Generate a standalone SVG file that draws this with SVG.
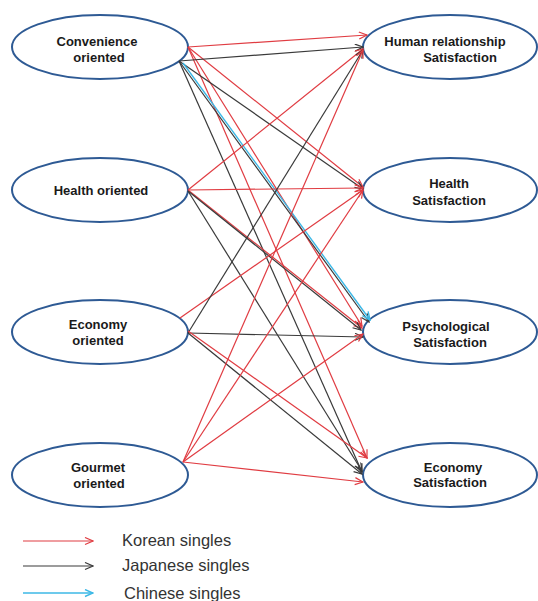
<svg xmlns="http://www.w3.org/2000/svg" width="538" height="601" viewBox="0 0 538 601">
<style>
.node ellipse{fill:#fff;stroke:#2e5a94;stroke-width:2}
.node text{font-family:"Liberation Sans",Arial,sans-serif;font-weight:bold;font-size:13px;fill:#1a1a1a;text-anchor:middle}
.kr{stroke:#e03c42;stroke-width:1.2;fill:none}
.jp{stroke:#3a3a3a;stroke-width:1.2;fill:none}
.cn{stroke:#3cb8e6;stroke-width:1.4;fill:none}
.kr{marker-end:url(#ak)}
.jp{marker-end:url(#aj)}
.cn{marker-end:url(#ac)}
.legend text{font-family:"Liberation Sans",Arial,sans-serif;font-size:16.5px;fill:#333}
</style>
<defs>
<marker id="ak" markerUnits="userSpaceOnUse" markerWidth="10" markerHeight="10" refX="9" refY="4" orient="auto"><path d="M1,0.5 L9,4 L1,7.5" fill="none" stroke="#e03c42" stroke-width="1.2"/></marker>
<marker id="aj" markerUnits="userSpaceOnUse" markerWidth="10" markerHeight="10" refX="9" refY="4" orient="auto"><path d="M1,0.5 L9,4 L1,7.5" fill="none" stroke="#3a3a3a" stroke-width="1.2"/></marker>
<marker id="ac" markerUnits="userSpaceOnUse" markerWidth="10" markerHeight="10" refX="9" refY="4" orient="auto"><path d="M1,0.5 L9,4 L1,7.5" fill="none" stroke="#3cb8e6" stroke-width="1.4"/></marker>
</defs>

<g id="n-convenience" class="node"><ellipse cx="100" cy="47" rx="88" ry="32"/><text x="97" y="46">Convenience</text><text x="99" y="62">oriented</text></g>
<g id="n-health" class="node"><ellipse cx="100" cy="190" rx="88" ry="32"/><text x="101" y="195">Health oriented</text></g>
<g id="n-economy" class="node"><ellipse cx="100" cy="332" rx="88" ry="32"/><text x="98" y="329">Economy</text><text x="98" y="345">oriented</text></g>
<g id="n-gourmet" class="node"><ellipse cx="100" cy="475" rx="88" ry="32"/><text x="98" y="472">Gourmet</text><text x="99" y="488">oriented</text></g>

<g id="n-human-sat" class="node"><ellipse cx="450" cy="47" rx="87" ry="32"/><text x="445" y="46">Human relationship</text><text x="460" y="62">Satisfaction</text></g>
<g id="n-health-sat" class="node"><ellipse cx="450" cy="190" rx="87" ry="32"/><text x="449" y="188">Health</text><text x="449" y="205">Satisfaction</text></g>
<g id="n-psych-sat" class="node"><ellipse cx="450" cy="332" rx="87" ry="32"/><text x="446" y="331">Psychological</text><text x="450" y="347">Satisfaction</text></g>
<g id="n-economy-sat" class="node"><ellipse cx="450" cy="475" rx="87" ry="32"/><text x="453" y="472">Economy</text><text x="450" y="487">Satisfaction</text></g>

<g id="connectors">
<line class="kr" x1="188" y1="47" x2="367" y2="35"/>
<line class="kr" x1="188" y1="47" x2="363" y2="187"/>
<line class="kr" x1="188" y1="47" x2="362" y2="326"/>
<line class="kr" x1="188" y1="47" x2="367" y2="458"/>
<line class="jp" x1="179" y1="61" x2="363" y2="47"/>
<line class="jp" x1="179" y1="61" x2="363" y2="189"/>
<line class="jp" x1="179" y1="61" x2="369" y2="322"/>
<line class="jp" x1="179" y1="61" x2="362" y2="472"/>
<line class="cn" x1="183" y1="63" x2="370" y2="320"/>

<line class="kr" x1="188" y1="190" x2="363" y2="49"/>
<line class="kr" x1="188" y1="190" x2="363" y2="188"/>
<line class="kr" x1="188" y1="190" x2="362" y2="328"/>
<line class="jp" x1="188" y1="191" x2="361" y2="330"/>
<line class="jp" x1="188" y1="191" x2="362" y2="471"/>

<line class="kr" x1="180" y1="318" x2="363" y2="190"/>
<line class="jp" x1="188" y1="333" x2="363" y2="50"/>
<line class="jp" x1="188" y1="333" x2="363" y2="337"/>
<line class="jp" x1="188" y1="333" x2="362" y2="474"/>
<line class="kr" x1="188" y1="331" x2="367" y2="458"/>

<line class="kr" x1="183" y1="462" x2="363" y2="50"/>
<line class="kr" x1="183" y1="462" x2="363" y2="190"/>
<line class="kr" x1="183" y1="462" x2="363" y2="334"/>
<line class="kr" x1="183" y1="462" x2="363" y2="482"/>
</g>

<g id="legend" class="legend">
<line class="kr" x1="23" y1="541" x2="93" y2="541"/>
<text x="122" y="546">Korean singles</text>
<line class="jp" x1="23" y1="566" x2="93" y2="566"/>
<text x="122" y="571">Japanese singles</text>
<line class="cn" x1="23" y1="593" x2="93" y2="593"/>
<text x="124" y="599">Chinese singles</text>
</g>
</svg>
